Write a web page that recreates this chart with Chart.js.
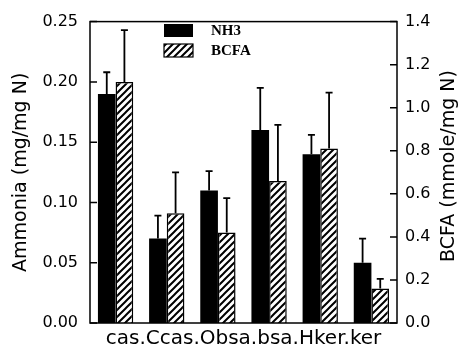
<!DOCTYPE html>
<html>
<head>
<meta charset="utf-8">
<script src="https://cdn.jsdelivr.net/npm/chart.js@4/dist/chart.umd.min.js"></script>
<style>
  html, body { margin: 0; padding: 0; background: #fff; }
  #wrap { width: 462px; height: 349px; }
</style>
</head>
<body>
<div id="wrap"><canvas id="chart" width="462" height="349"></canvas></div>
<script>
// data
const categories = ['cas.C', 'cas.O', 'bsa.b', 'sa.H', 'ker.k', 'er'];
const nh3 = [0.19, 0.07, 0.11, 0.16, 0.14, 0.05];
const nh3Err = [0.018, 0.019, 0.016, 0.035, 0.016, 0.02];
const bcfa = [1.12, 0.51, 0.42, 0.66, 0.81, 0.16];
const bcfaErr = [0.24, 0.19, 0.16, 0.26, 0.26, 0.045];
const leftTicks = { min: 0, max: 0.25, step: 0.05 };
const rightTicks = { min: 0, max: 1.4, step: 0.2 };

Chart.defaults.color = '#000';
Chart.defaults.font.family = '"DejaVu Sans", sans-serif';

// diagonal hatch for BCFA bars
function makeHatch() {
  const c = document.createElement('canvas');
  c.width = 7; c.height = 7;
  const g = c.getContext('2d');
  g.fillStyle = '#fff';
  g.fillRect(0, 0, 7, 7);
  g.strokeStyle = '#000';
  g.lineWidth = 2;
  g.beginPath();
  g.moveTo(-1, 8); g.lineTo(8, -1);
  g.moveTo(-1, 1); g.lineTo(1, -1);
  g.moveTo(6, 8); g.lineTo(8, 6);
  g.stroke();
  return g.createPattern(c, 'repeat');
}
const hatch = makeHatch();

// upward error bars with caps
const errorBars = {
  id: 'errorBars',
  afterDatasetsDraw(chart) {
    const ctx = chart.ctx;
    ctx.save();
    ctx.strokeStyle = '#000';
    ctx.lineWidth = 1.8;
    chart.data.datasets.forEach((ds, i) => {
      const meta = chart.getDatasetMeta(i);
      const scale = chart.scales[ds.yAxisID];
      meta.data.forEach((bar, j) => {
        const top = scale.getPixelForValue(ds.data[j] + ds.errors[j]);
        ctx.beginPath();
        ctx.moveTo(bar.x, bar.y);
        ctx.lineTo(bar.x, top);
        ctx.moveTo(bar.x - 3.5, top);
        ctx.lineTo(bar.x + 3.5, top);
        ctx.stroke();
      });
    });
    ctx.restore();
  }
};

// frame, inward ticks, right title, legend
const decorations = {
  id: 'decorations',
  afterDraw(chart) {
    const ctx = chart.ctx;
    const area = chart.chartArea;
    const yl = chart.scales.y;
    const yr = chart.scales.y2;
    ctx.save();
    ctx.strokeStyle = '#000';
    ctx.lineWidth = 1.5;
    ctx.strokeRect(area.left, area.top, area.right - area.left, area.bottom - area.top);

    ctx.beginPath();
    yl.ticks.forEach(t => {
      const y = yl.getPixelForValue(t.value);
      ctx.moveTo(area.left, y);
      ctx.lineTo(area.left + 7, y);
    });
    yr.ticks.forEach(t => {
      const y = yr.getPixelForValue(t.value);
      ctx.moveTo(area.right - 7, y);
      ctx.lineTo(area.right, y);
    });
    ctx.stroke();

    // right title reads bottom to top
    ctx.save();
    ctx.translate(449, 166);
    ctx.rotate(-Math.PI / 2);
    ctx.font = '19px "DejaVu Sans"';
    ctx.fillStyle = '#000';
    ctx.textAlign = 'center';
    ctx.textBaseline = 'middle';
    ctx.fillText(yr.options.title.text, 0, 0);
    ctx.restore();

    // legend
    ctx.font = 'bold 15px "Liberation Serif"';
    ctx.textAlign = 'left';
    ctx.textBaseline = 'middle';
    chart.data.datasets.forEach((ds, i) => {
      const y = 24 + i * 20;
      ctx.fillStyle = ds.backgroundColor;
      ctx.fillRect(164, y, 29, 13);
      if (ds.borderWidth) {
        ctx.lineWidth = 1.2;
        ctx.strokeRect(164, y, 29, 13);
      }
      ctx.fillStyle = '#000';
      ctx.fillText(ds.label, 211, y + 7);
    });
    ctx.restore();
  }
};

new Chart(document.getElementById('chart'), {
  type: 'bar',
  data: {
    labels: categories,
    datasets: [
      {
        label: 'NH3',
        data: nh3,
        errors: nh3Err,
        yAxisID: 'y',
        backgroundColor: '#000',
        borderWidth: 0
      },
      {
        label: 'BCFA',
        data: bcfa,
        errors: bcfaErr,
        yAxisID: 'y2',
        backgroundColor: hatch,
        borderColor: '#000',
        borderWidth: 1.5
      }
    ]
  },
  options: {
    responsive: false,
    animation: false,
    devicePixelRatio: 1,
    layout: { padding: { top: 20, left: 0, right: 0, bottom: 0 } },
    categoryPercentage: 0.69,
    barPercentage: 1.0,
    plugins: { legend: { display: false }, tooltip: { enabled: false } },
    scales: {
      x: {
        grid: { display: false },
        border: { display: false },
        ticks: { display: false },
        title: {
          display: true,
          text: categories.join(''),
          font: { size: 20, lineHeight: 1 },
          padding: 0
        },
        afterFit(s) { s.height = 26; }
      },
      y: {
        position: 'left',
        min: leftTicks.min,
        max: leftTicks.max,
        grid: { display: false, drawTicks: false },
        border: { display: false },
        ticks: {
          stepSize: leftTicks.step,
          padding: 12,
          font: { size: 16 },
          callback: v => v.toFixed(2)
        },
        title: {
          display: true,
          text: 'Ammonia (mg/mg N)',
          font: { size: 19, lineHeight: 1 },
          padding: { top: 12, bottom: 0 }
        },
        afterFit(s) { s.width = 90; }
      },
      y2: {
        position: 'right',
        min: rightTicks.min,
        max: rightTicks.max,
        grid: { display: false, drawTicks: false },
        border: { display: false },
        ticks: {
          stepSize: rightTicks.step,
          padding: 8,
          font: { size: 16 },
          callback: v => v.toFixed(1)
        },
        title: { display: false, text: 'BCFA (mmole/mg N)' },
        afterFit(s) { s.width = 65; }
      }
    }
  },
  plugins: [errorBars, decorations]
});
</script>
</body>
</html>
